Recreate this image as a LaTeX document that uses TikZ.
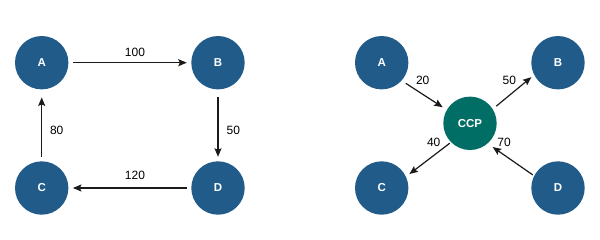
\documentclass[tikz,border=0pt]{standalone}
\usepackage{fontspec}
\setmainfont{Liberation Sans}
\usepackage{xcolor}
\usepackage{tikz}
\usetikzlibrary{arrows.meta}
\definecolor{NetBlue}{HTML}{215B8A}
\definecolor{NetTeal}{HTML}{006E64}
\definecolor{NetArrow}{HTML}{1A1A1A}

\begin{document}
\begin{tikzpicture}[x=1pt, y=-1pt,
  party/.style={circle, fill=#1, minimum size=53.4pt, inner sep=0pt, outer sep=0pt,
    text=white, font=\fontsize{11.5}{13}\selectfont\bfseries},
  party/.default=NetBlue,
  flow/.style={-{Stealth[length=8.5pt,width=7pt,inset=1.5pt]}, line width=1.2pt, draw=NetArrow},
  amount/.style={font=\fontsize{12}{14}\selectfont, inner sep=0pt}
]
  \useasboundingbox (0,0) rectangle (600,239);

  % bilateral settlement
  \node[party] (bA) at (41.7,62.7) {A};
  \node[party] (bB) at (218,62.7) {B};
  \node[party] (bC) at (41.7,188) {C};
  \node[party] (bD) at (218,188) {D};

  \draw[flow, shorten <=4.5pt, shorten >=4.5pt] (bA) -- (bB);
  \draw[flow, shorten <=8pt, shorten >=4.5pt] (bB) -- (bD);
  \draw[flow, shorten <=4.5pt, shorten >=4.5pt] (bD) -- (bC);
  \draw[flow, shorten <=4.5pt, shorten >=8pt] (bC) -- (bA);

  \node[amount] (bAB) at (135,52.8) {100};
  \node[amount] (bBD) at (233.3,130) {50};
  \node[amount] (bDC) at (135,175.7) {120};
  \node[amount] (bCA) at (56.7,130) {80};

  % central counterparty
  \node[party] (cA) at (381.7,62.7) {A};
  \node[party] (cB) at (558,62.7) {B};
  \node[party] (cC) at (381.7,188) {C};
  \node[party] (cD) at (558,188) {D};
  \node[party=NetTeal] (ccp) at (470,123.3) {CCP};

  \draw[flow, shorten <=5pt, shorten >=5pt] (cA.-42) -- (ccp.150);
  \draw[flow, shorten <=4.7pt, shorten >=3.7pt] (ccp.32) -- (cB.-153);
  \draw[flow, shorten <=1.6pt, shorten >=4.4pt] (ccp.-135) -- (cC.25);
  \draw[flow, shorten <=1.7pt, shorten >=6.3pt] (cD.153) -- (ccp.-49);

  \node[amount] (cAC) at (422.7,80) {20};
  \node[amount] (cCB) at (509.3,80) {50};
  \node[amount] (cCC) at (433.7,142.3) {40};
  \node[amount] (cDC) at (504,142.3) {70};
\end{tikzpicture}
\end{document}
